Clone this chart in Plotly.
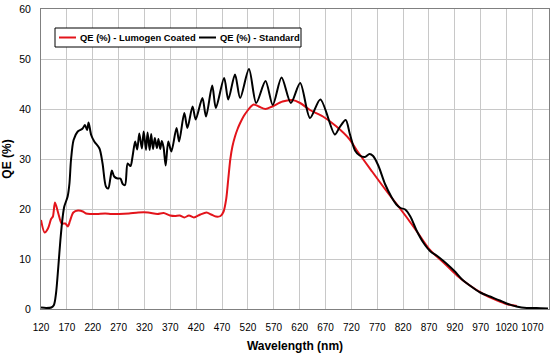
import plotly.graph_objects as go

# Standard (black) curve
wl_std = [120, 130, 140, 145, 149, 153.5, 157.5, 162, 165, 171.5, 175, 178, 183, 191, 200.5, 205, 209, 212,
          217, 223, 233, 239, 245.5, 250, 254, 257, 261.5, 268, 273.5, 278, 282.5, 287.5, 293, 297,
          302, 306, 310, 315, 318.5, 323, 326, 330, 333, 336.5, 340, 344, 347, 350.5, 353.5, 357, 361, 366,
          372, 382, 387, 397, 403, 413, 419, 432, 439, 451, 458, 474, 482, 495, 505, 522, 536, 554, 568,
          585, 603, 621, 640, 660, 688, 697, 709, 717, 727, 736, 746, 755, 762, 772, 785, 798, 807, 815,
          824, 834, 846, 859, 873, 886, 898, 911, 920, 933, 949, 969, 988, 1007, 1020, 1039, 1059, 1078, 1100]
qe_std = [0.3, 0.2, 0.3, 0.8, 3.1, 8.5, 13.8, 18.5, 20.5, 22.5, 25.1, 29.8, 33.8, 35.5, 36.1, 36.8, 35.8, 37.3,
          34.8, 33.5, 32.1, 29.1, 24.5, 24.1, 26.1, 27.7, 26.5, 26.1, 26.1, 25.0, 24.8, 29.1, 28.6, 30.5,
          33.5, 31.9, 35.1, 32.1, 35.5, 31.8, 35.3, 31.8, 35.0, 32.0, 34.2, 32.2, 34.0, 32.0, 33.6, 32.3, 28.7, 33.5,
          31.5, 36.2, 33.5, 39.2, 36.2, 40.5, 37.9, 42.2, 38.5, 44.7, 40.2, 46.2, 41.9, 46.9, 42.2, 48.0, 41.2, 45.6, 40.8,
          46.3, 41.2, 45.2, 38.2, 41.9, 34.9, 36.3, 37.8, 35.0, 31.7, 30.7, 30.4, 31.0, 30.6, 28.7, 25.0, 22.3, 20.9, 20.2,
          19.9, 18.5, 15.7, 13.3, 11.5, 10.6, 9.6, 8.4, 7.5, 6.0, 4.7, 3.3, 2.5, 1.7, 1.1, 0.5, 0.2, 0.2, 0.1]

# Lumogen coated (red) curve
wl_lum = [120, 127, 133.5, 139.5, 143, 147, 153.5, 160, 167, 172, 176, 182.5, 191.5, 201, 207, 216, 228, 244,
          256, 271, 290, 308, 327, 345, 357, 369.5, 379, 388, 397, 406, 415.5, 428, 440, 449, 458, 467,
          473, 478, 482, 486, 490, 495, 500, 505, 512, 518, 525, 531, 541, 554, 567, 587, 606, 621, 640,
          665, 690, 716, 730, 760, 790, 814, 830, 850, 872, 898, 924, 949, 975, 1000, 1020, 1040]
qe_lum = [17.8, 15.3, 16.1, 18.0, 18.5, 21.3, 19.1, 17.1, 17.1, 16.5, 17.6, 19.3, 19.7, 19.5, 19.1, 19.0, 19.0, 19.1,
          19.0, 19.0, 19.1, 19.3, 19.3, 19.0, 19.2, 18.7, 18.6, 18.7, 18.3, 18.7, 18.3, 18.9, 19.3, 18.9, 18.5, 18.6,
          19.5, 22.0, 26.0, 30.0, 32.5, 34.5, 36.0, 37.2, 38.6, 39.5, 40.4, 40.9, 40.5, 40.0, 40.5, 41.5, 41.8, 41.2, 39.8,
          38.5, 36.6, 34.0, 31.8, 27.5, 23.3, 20.1, 17.9, 15.0, 11.8, 9.3, 6.7, 4.7, 3.0, 1.8, 1.0, 0.6]

x_ticks = list(range(120, 1071, 50))
y_ticks = [0, 10, 20, 30, 40, 50, 60]

series_names = ["QE (%) - Lumogen Coated", "QE (%) - Standard"]
series_colors = ["#e3141b", "#000000"]

FONT = "Liberation Sans, Arial, sans-serif"

fig = go.Figure()
fig.add_trace(go.Scatter(x=wl_lum, y=qe_lum, mode="lines", name=series_names[0], showlegend=False,
                         line=dict(color=series_colors[0], width=2, shape="spline", smoothing=0.8)))
fig.add_trace(go.Scatter(x=wl_std, y=qe_std, mode="lines", name=series_names[1], showlegend=False,
                         line=dict(color=series_colors[1], width=2, shape="spline", smoothing=0.8)))

# compact legend box (paper coordinates derived from pixel positions)
L, W, T = 41.0, 508.0, 9.0
H = 300.0
def px(x):
    return (x - L) / W
def py(y):
    return 1 - (y - T) / H

shapes = [dict(type="rect", xref="paper", yref="paper", x0=px(55), x1=px(301), y0=py(47), y1=py(28),
               line=dict(color="#000", width=1), fillcolor="white", layer="above")]
annotations = []
legend_slots = [(59, 76, 78), (199, 216, 218)]
for (lx0, lx1, tx), name, col in zip(legend_slots, series_names, series_colors):
    shapes.append(dict(type="line", xref="paper", yref="paper", x0=px(lx0), x1=px(lx1), y0=py(37.5), y1=py(37.5),
                       line=dict(color=col, width=2), layer="above"))
    annotations.append(dict(xref="paper", yref="paper", x=px(tx), y=py(37.5), xanchor="left", yanchor="middle",
                            text=name, showarrow=False,
                            font=dict(family=FONT, size=9.4, color="#000", weight="bold")))

fig.update_layout(
    width=553, height=361,
    margin=dict(l=41, r=4, t=9, b=52),
    paper_bgcolor="white", plot_bgcolor="white",
    font=dict(family=FONT, size=10, color="#000"),
    showlegend=False,
    shapes=shapes, annotations=annotations,
    xaxis=dict(range=[120, 1102], tickvals=x_ticks, ticktext=[str(v) for v in x_ticks], tickangle=0,
               showgrid=True, gridcolor="#c8c8c8", gridwidth=1,
               showline=True, linecolor="#808080", linewidth=1, mirror=True,
               ticks="", ticklabelstandoff=9, zeroline=False, ticklabeloverflow="allow",
               tickfont=dict(family=FONT, size=10, color="#000"),
               title=dict(text="Wavelength (nm)", standoff=9,
                          font=dict(family=FONT, size=12, color="#000", weight="bold"))),
    yaxis=dict(range=[0, 60], tickvals=y_ticks,
               showgrid=True, gridcolor="#c8c8c8", gridwidth=1,
               showline=True, linecolor="#808080", linewidth=1, mirror=True,
               ticks="", ticklabelstandoff=7, zeroline=False, ticklabeloverflow="allow",
               tickfont=dict(family=FONT, size=10.5, color="#000"),
               title=dict(text="QE (%)", standoff=6,
                          font=dict(family=FONT, size=12, color="#000", weight="bold"))),
)

# remove the browser's default 8px page margin so the figure sits at the window origin
fig.write_html("out.html", config={"displayModeBar": False, "staticPlot": True},
               post_script="document.body.style.margin='0';")
